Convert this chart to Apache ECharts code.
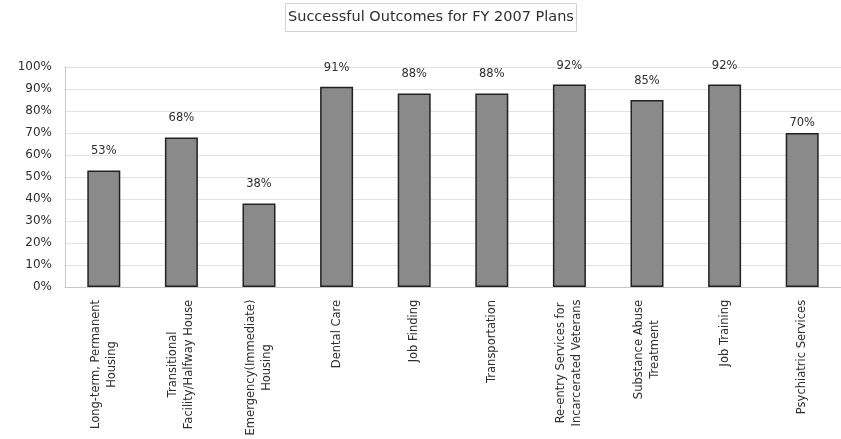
<!DOCTYPE html>
<html>
<head>
<meta charset="utf-8">
<script src="https://cdn.jsdelivr.net/npm/echarts@6/dist/echarts.min.js"></script>
<style>
html, body { margin: 0; padding: 0; background: #fff; }
#chart { width: 841px; height: 439px; }
</style>
</head>
<body>
<div id="chart"></div>
<script>
// Service categories (each inner array is one wrapped label, one entry per line)
const categories = [
  ['Long-term, Permanent', 'Housing'],
  ['Transitional', 'Facility/Halfway House'],
  ['Emergency(Immediate)', 'Housing'],
  ['Dental Care'],
  ['Job Finding'],
  ['Transportation'],
  ['Re-entry Services for', 'Incarcerated Veterans'],
  ['Substance Abuse', 'Treatment'],
  ['Job Training'],
  ['Psychiatric Services']
];
// Share of plans with a successful outcome (percent)
const successRates = [53, 68, 38, 91, 88, 88, 92, 85, 92, 70];
const yTicks = [0, 10, 20, 30, 40, 50, 60, 70, 80, 90, 100];

const FONT = 'DejaVu Sans';
const LABEL_SIZE = 11.5;
const TEXT_COLOR = '#2e2e2e';

// Measure each label's widest line so its lines can be centred in one block
const ctx = document.createElement('canvas').getContext('2d');
ctx.font = LABEL_SIZE + 'px "' + FONT + '"';
const rich = {};
categories.forEach((lines, i) => {
  const w = Math.max(...lines.map(l => ctx.measureText(l).width));
  rich['l' + i] = {
    width: Math.ceil(w) + 1,
    align: 'center',
    fontFamily: FONT,
    fontSize: LABEL_SIZE,
    lineHeight: 16,
    color: TEXT_COLOR
  };
});
const catKeys = categories.map((_, i) => String(i));

// The last value label sits closer to its bar
const barData = successRates.map((v, i) =>
  i === successRates.length - 1 ? { value: v, label: { distance: 4 } } : v
);

const chart = echarts.init(document.getElementById('chart'), null, { renderer: 'canvas' });
chart.setOption({
  backgroundColor: '#ffffff',
  animation: false,
  title: {
    text: 'Successful Outcomes for FY 2007 Plans',
    left: 285,
    top: 3,
    padding: [7, 3, 7, 3],
    borderColor: '#d2d2d2',
    borderWidth: 1,
    textStyle: {
      fontFamily: FONT,
      fontSize: 14.5,
      lineHeight: 15,
      fontWeight: 'normal',
      color: TEXT_COLOR
    }
  },
  grid: { left: 65, width: 786, top: 67, height: 221, containLabel: false },
  xAxis: {
    type: 'category',
    data: catKeys,
    axisLine: { show: true, lineStyle: { color: '#c8c8c8', width: 1 } },
    axisTick: { show: false },
    axisLabel: {
      interval: 0,
      rotate: 90,
      margin: 12,
      formatter: (v) => {
        const i = Number(v);
        return categories[i].map(l => '{l' + i + '|' + l + '}').join('\n');
      },
      rich: rich
    }
  },
  yAxis: {
    type: 'value',
    min: yTicks[0],
    max: yTicks[yTicks.length - 1],
    interval: 10,
    axisLine: { show: true, lineStyle: { color: '#c8c8c8', width: 1 } },
    axisTick: { show: false },
    splitLine: { show: true, lineStyle: { color: '#e2e2e2', width: 1 } },
    axisLabel: {
      margin: 13,
      formatter: (v) => v + '%',
      fontFamily: FONT,
      fontSize: 12,
      color: TEXT_COLOR
    }
  },
  series: [{
    type: 'bar',
    data: barData,
    barWidth: 33,
    itemStyle: { color: '#8a8a8a', borderColor: '#222222', borderWidth: 1.5 },
    label: {
      show: true,
      position: 'top',
      distance: 13,
      formatter: (p) => p.value + '%',
      fontFamily: FONT,
      fontSize: 11.5,
      color: TEXT_COLOR
    }
  }]
});
</script>
</body>
</html>
